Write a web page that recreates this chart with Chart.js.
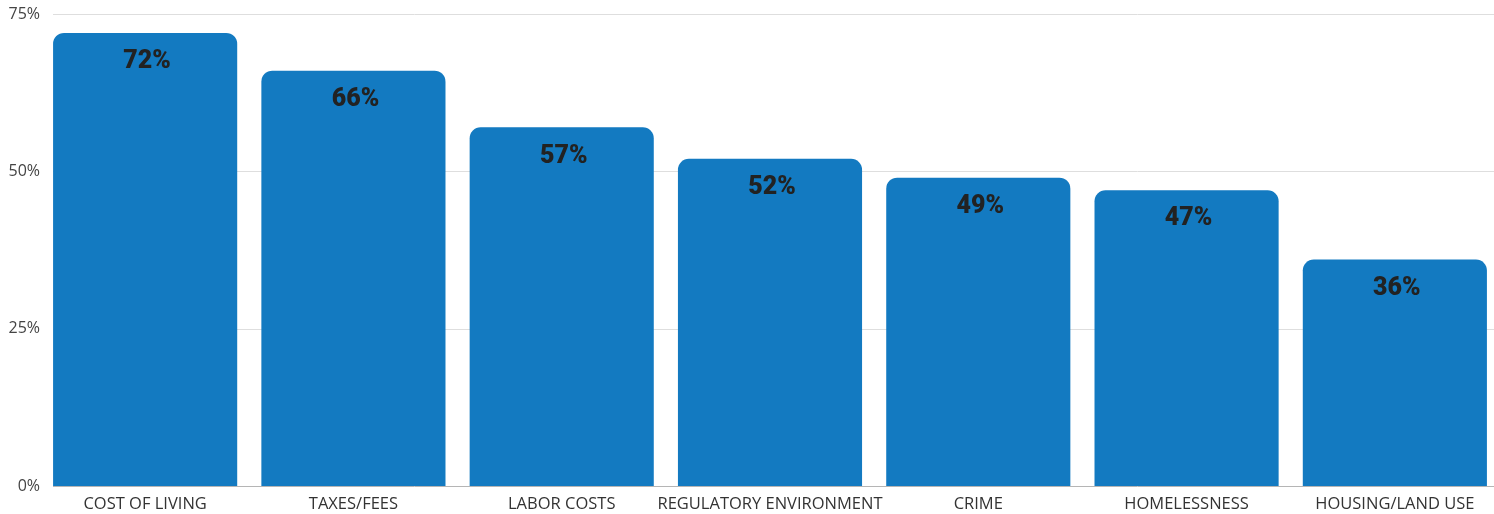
<!DOCTYPE html>
<html>
<head>
<meta charset="utf-8">
<script src="https://cdn.jsdelivr.net/npm/chart.js@4/dist/chart.umd.min.js"></script>
<style>
html,body{margin:0;padding:0;background:#fff;overflow:hidden;width:1494px;height:514px;}
#wrap{position:relative;width:1506px;height:514px;}
</style>
</head>
<body>
<div id="wrap"><canvas id="c"></canvas></div>
<script>
const categories = ["COST OF LIVING","TAXES/FEES","LABOR COSTS","REGULATORY ENVIRONMENT","CRIME","HOMELESSNESS","HOUSING/LAND USE"];
const values = [72,66,57,52,49,47,36];
const yTicks = [0,25,50,75];

const barColor = '#137ac1';

const gridPlugin = {
  id: 'gridLines',
  beforeDatasetsDraw(chart) {
    const {ctx, chartArea, scales} = chart;
    ctx.save();
    yTicks.forEach(v => {
      const y = Math.round(scales.y.getPixelForValue(v)) + 0.5;
      ctx.strokeStyle = v === 0 ? '#b5b5b5' : '#dedede';
      ctx.lineWidth = 1;
      ctx.beginPath();
      ctx.moveTo(chartArea.left + 12, y);
      ctx.lineTo(chartArea.right, y);
      ctx.stroke();
    });
    ctx.restore();
  }
};

const labelPlugin = {
  id: 'barLabels',
  afterDatasetsDraw(chart) {
    const {ctx} = chart;
    const meta = chart.getDatasetMeta(0);
    ctx.save();
    ctx.font = '900 25px Roboto';
    ctx.fillStyle = '#222222';
    ctx.textAlign = 'center';
    ctx.textBaseline = 'middle';
    meta.data.forEach((bar, i) => {
      ctx.fillText(values[i] + '%', bar.x + 2, bar.y + 29);
    });
    ctx.restore();
  }
};

new Chart(document.getElementById('c'), {
  type: 'bar',
  data: {
    labels: categories,
    datasets: [{
      data: values,
      backgroundColor: barColor,
      borderRadius: {topLeft: 11, topRight: 11, bottomLeft: 0, bottomRight: 0},
      borderSkipped: 'bottom',
      categoryPercentage: 1,
      barPercentage: 0.884
    }]
  },
  options: {
    responsive: true,
    maintainAspectRatio: false,
    animation: false,
    layout: {padding: {top: 14, bottom: 0, left: 0, right: 7}},
    plugins: {legend: {display: false}, tooltip: {enabled: false}},
    scales: {
      x: {
        grid: {display: false, drawTicks: false},
        border: {display: false},
        ticks: {
          color: '#333333',
          font: {family: 'Open Sans', size: 16.5},
          padding: 8,
          maxRotation: 0,
          autoSkip: false
        },
        afterFit(s) { s.height = 28; }
      },
      y: {
        min: 0,
        max: 75,
        grid: {display: false, drawTicks: false},
        border: {display: false},
        ticks: {
          stepSize: 25,
          color: '#444444',
          font: {family: 'Open Sans', size: 16},
          padding: 1,
          callback: v => v + '%'
        },
        afterFit(s) { s.width = 41; }
      }
    }
  },
  plugins: [gridPlugin, labelPlugin]
});
</script>
</body>
</html>
